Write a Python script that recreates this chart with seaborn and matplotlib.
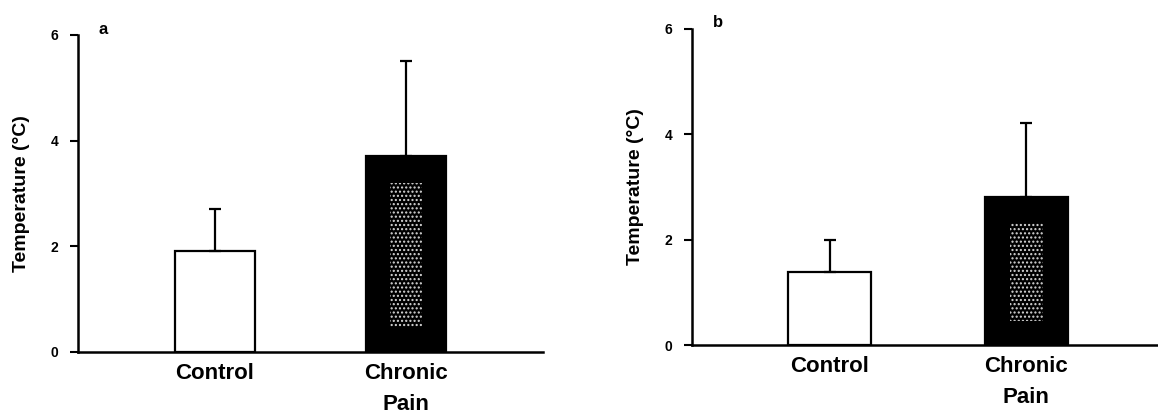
import pandas as pd
import matplotlib
matplotlib.use("Agg")
import matplotlib.pyplot as plt
import seaborn as sns

# mean temperature with upper SD
groups = ["Control", "Chronic\nPain"]
means_a = [1.92, 3.70]
sd_a = [0.79, 1.81]
means_b = [1.39, 2.81]
sd_b = [0.61, 1.41]
panel_names = ["a", "b"]
y_ticks = [0, 2, 4, 6]

sns.set_style("ticks")
plt.rcParams["font.family"] = ["Liberation Sans", "DejaVu Sans"]
plt.rcParams["font.weight"] = "bold"
for key in ["text.color", "axes.labelcolor", "xtick.color", "ytick.color", "axes.edgecolor"]:
    plt.rcParams[key] = "black"

fig = plt.figure(figsize=(11.58, 4.19), dpi=100)
ax_a = fig.add_axes([0.0674, 0.160, 0.4016, 0.7566])
ax_b = fig.add_axes([0.5976, 0.1766, 0.4024, 0.7542])


def temperature_panel(ax, means, sd, letter, xlim, letter_y):
    df = pd.DataFrame({"group": groups, "temp": means})
    sns.barplot(
        data=df,
        x="group",
        y="temp",
        hue="group",
        palette=["white", "black"],
        edgecolor="black",
        linewidth=1.6,
        width=0.42,
        legend=False,
        ax=ax,
    )
    # speckled core of the dark bar
    ax.bar(
        [1],
        [means[1] - 0.95],
        bottom=0.45,
        width=0.17,
        color="none",
        hatch="....",
        edgecolor="#d8d8d8",
        linewidth=0,
        zorder=3,
    )
    # only the upper half of the SD is drawn
    ax.errorbar(
        [0, 1],
        means,
        yerr=[[0, 0], sd],
        fmt="none",
        ecolor="black",
        elinewidth=1.6,
        capsize=4,
        capthick=1.6,
        zorder=1,
    )
    ax.set_xlim(*xlim)
    ax.set_ylim(0, 6)
    ax.set_yticks(y_ticks)
    ax.set_yticklabels([str(t) for t in y_ticks], fontsize=10, fontweight="bold")
    ax.tick_params(axis="y", length=6, width=1.5, pad=8)
    ax.tick_params(axis="x", length=0, pad=8)
    for lab in ax.get_xticklabels():
        lab.set_fontsize(16)
        lab.set_fontweight("bold")
        lab.set_linespacing(1.6)
        lab.set_va("top")
    ax.set_xlabel("")
    ax.set_ylabel("Temperature (°C)", fontsize=14, fontweight="bold")
    ax.yaxis.set_label_coords(-0.103, 0.5)
    for side in ["left", "bottom"]:
        ax.spines[side].set_linewidth(1.8)
    sns.despine(ax=ax)
    ax.text(0.045, letter_y, letter, transform=ax.transAxes, fontsize=12,
            fontweight="bold", ha="left", va="center")


temperature_panel(ax_a, means_a, sd_a, panel_names[0], (-0.717, 1.717), 1.016)
temperature_panel(ax_b, means_b, sd_b, panel_names[1], (-0.70, 1.67), 1.022)

fig.savefig("out.png", dpi=100)
